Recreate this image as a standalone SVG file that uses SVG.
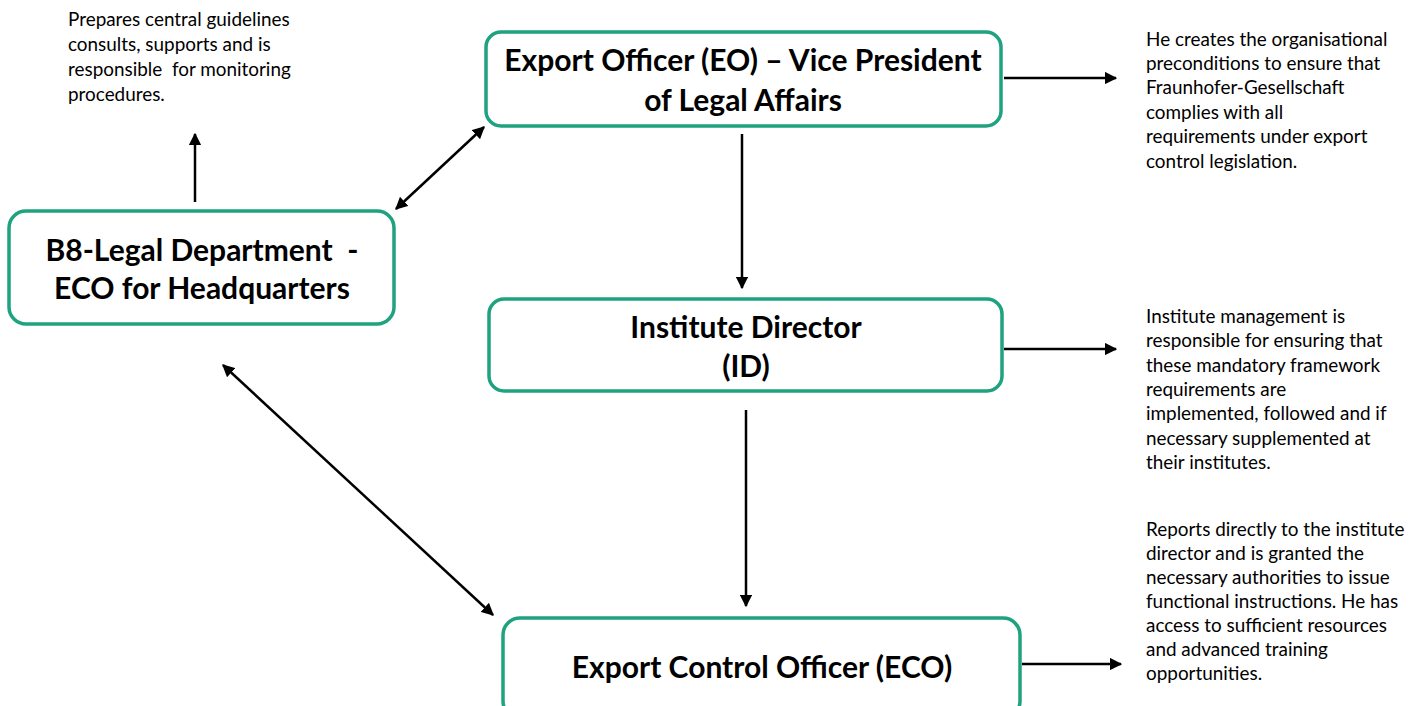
<svg xmlns="http://www.w3.org/2000/svg" width="1423" height="706" viewBox="0 0 1423 706">
<style>
.box{fill:#fff;stroke:#1fa27f;stroke-width:3.5}
.t{font-family:Lato,"Liberation Sans",sans-serif;font-weight:bold;font-size:30px;fill:#000;text-anchor:middle}
.d{font-family:Lato,"Liberation Sans",sans-serif;font-size:18.9px;fill:#000}
.c{stroke:#000;stroke-width:2.5;fill:none}
</style>
<defs>
<marker id="ah" viewBox="0 0 10 10" refX="9" refY="5" markerWidth="5" markerHeight="5" orient="auto-start-reverse" markerUnits="strokeWidth">
<path d="M0,0 L10,5 L0,10 z" fill="#000"/>
</marker>
</defs>
<rect width="1423" height="706" fill="#fff"/>
<g id="connectors">
<line class="c" x1="195" y1="202" x2="195" y2="134" marker-end="url(#ah)"/>
<line class="c" x1="396" y1="209" x2="484" y2="127" marker-start="url(#ah)" marker-end="url(#ah)"/>
<line class="c" x1="742" y1="134" x2="742" y2="288" marker-end="url(#ah)"/>
<line class="c" x1="746" y1="410" x2="746" y2="606" marker-end="url(#ah)"/>
<line class="c" x1="223" y1="365" x2="493" y2="615" marker-start="url(#ah)" marker-end="url(#ah)"/>
<line class="c" x1="1004" y1="78" x2="1116" y2="78" marker-end="url(#ah)"/>
<line class="c" x1="1004" y1="349" x2="1116" y2="349" marker-end="url(#ah)"/>
<line class="c" x1="1022" y1="664" x2="1121" y2="664" marker-end="url(#ah)"/>
</g>
<g id="eo">
<rect class="box" x="486" y="32" width="515" height="94" rx="15"/>
<text class="t" x="743" y="71">Export Officer (EO) – Vice President</text>
<text class="t" x="743" y="111">of Legal Affairs</text>
</g>
<g id="b8">
<rect class="box" x="9" y="211" width="385" height="113" rx="17"/>
<text class="t" x="202" y="261" xml:space="preserve">B8-Legal Department  -</text>
<text class="t" x="202" y="299">ECO for Headquarters</text>
</g>
<g id="id">
<rect class="box" x="489" y="299" width="513" height="92" rx="15"/>
<text class="t" x="746" y="338">Institute Director</text>
<text class="t" x="746" y="377">(ID)</text>
</g>
<g id="eco">
<rect class="box" x="503" y="618" width="517" height="100" rx="17"/>
<text class="t" x="762" y="678">Export Control Officer (ECO)</text>
</g>
<g id="note-b8">
<text class="d" x="68" y="26">Prepares central guidelines</text>
<text class="d" x="68" y="51">consults, supports and is</text>
<text class="d" x="68" y="76" xml:space="preserve">responsible  for monitoring</text>
<text class="d" x="68" y="101">procedures.</text>
</g>
<g id="note-eo">
<text class="d" x="1146" y="46">He creates the organisational</text>
<text class="d" x="1146" y="70">preconditions to ensure that</text>
<text class="d" x="1146" y="94">Fraunhofer-Gesellschaft</text>
<text class="d" x="1146" y="119">complies with all</text>
<text class="d" x="1146" y="143">requirements under export</text>
<text class="d" x="1146" y="168">control legislation.</text>
</g>
<g id="note-id">
<text class="d" x="1146" y="323">Institute management is</text>
<text class="d" x="1146" y="347">responsible for ensuring that</text>
<text class="d" x="1146" y="372">these mandatory framework</text>
<text class="d" x="1146" y="396">requirements are</text>
<text class="d" x="1146" y="420">implemented, followed and if</text>
<text class="d" x="1146" y="445">necessary supplemented at</text>
<text class="d" x="1146" y="469">their institutes.</text>
</g>
<g id="note-eco">
<text class="d" x="1146" y="536">Reports directly to the institute</text>
<text class="d" x="1146" y="560">director and is granted the</text>
<text class="d" x="1146" y="584">necessary authorities to issue</text>
<text class="d" x="1146" y="608">functional instructions. He has</text>
<text class="d" x="1146" y="632">access to sufficient resources</text>
<text class="d" x="1146" y="656">and advanced training</text>
<text class="d" x="1146" y="680">opportunities.</text>
</g>
</svg>
